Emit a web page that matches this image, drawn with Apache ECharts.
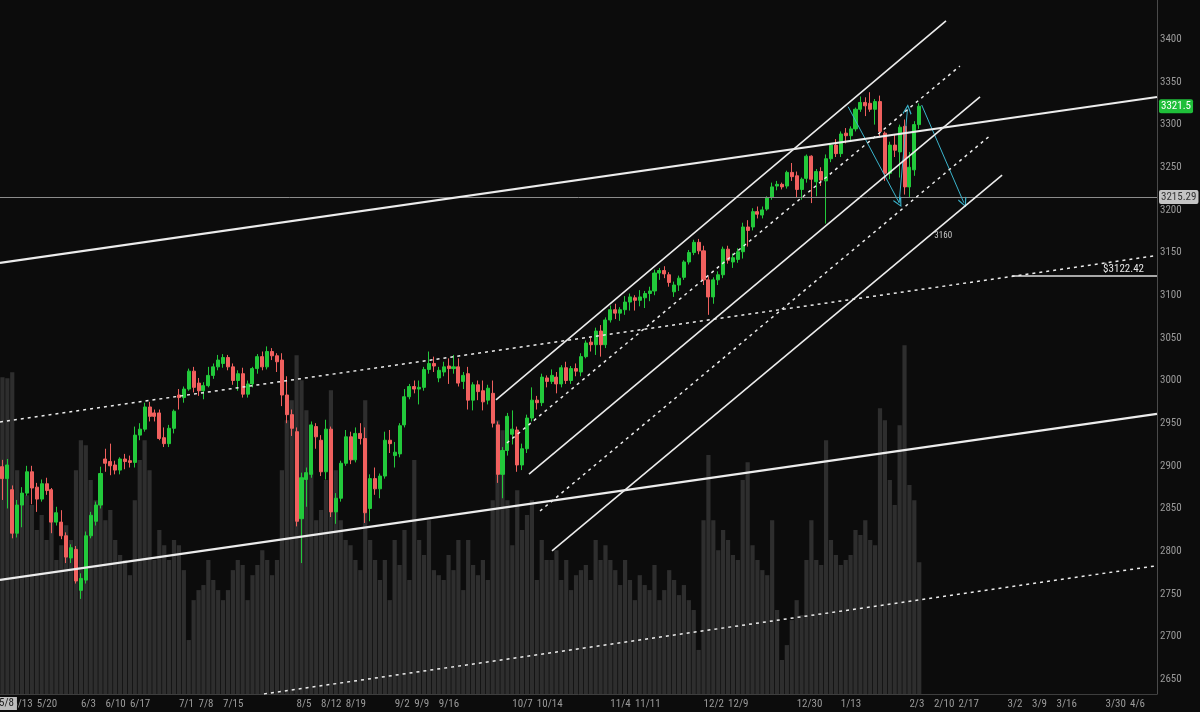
<!DOCTYPE html>
<html><head><meta charset="utf-8">
<script src="https://cdn.jsdelivr.net/npm/echarts@6/dist/echarts.min.js"></script>
<style>html,body{margin:0;padding:0;background:#0c0c0c}#c{width:1200px;height:712px}</style>
</head><body><div id="c"></div>
<script>
// ---------- data ----------
const firstDate = '2019-05-09';
const marketHolidays = ['2019-05-27','2019-07-04','2019-09-02','2019-11-28','2019-12-25','2020-01-01','2020-01-20'];
const slotCount = 236;
const xTickLabels = ['5/13','5/20','6/3','6/10','6/17','7/1','7/8','7/15','8/5','8/12','8/19','9/2','9/9','9/16','10/7','10/14','11/4','11/11','12/2','12/9','12/30','1/13','2/3','2/10','2/17','3/2','3/9','3/16','3/30','4/6'];
const yTickValues = [2650,2700,2750,2800,2850,2900,2950,3000,3050,3100,3150,3200,3250,3300,3350,3400];

const opens = [2899,2885,2872,2821,2854,2868,2893,2875,2861,2879,
2872,2834,2834,2818,2792,2802,2754,2766,2818,2835,
2854,2908,2905,2901,2895,2908,2906,2904,2936,2943,
2969,2962,2962,2933,2926,2944,2983,2980,2990,3011,
2997,2988,2994,3006,3016,3020,3027,3016,3000,3008,
2984,2996,3014,3028,3016,3034,3029,3024,2983,2960,
2940,2838,2884,2890,2946,2930,2893,2943,2846,2862,
2903,2934,2907,2938,2932,2850,2885,2873,2888,2930,
2912,2914,2948,2981,2993,2990,2992,3013,3020,3003,
3010,3017,3014,3016,2999,3008,2977,2995,2988,2977,
2985,2948,2890,2918,2937,2942,2901,2920,2956,2977,
2974,3003,2999,3004,2996,3015,3000,3014,3010,3028,
3045,3042,3058,3042,3071,3083,3079,3083,3092,3097,
3094,3097,3102,3105,3126,3129,3124,3104,3112,3121,
3139,3150,3162,3152,3118,3098,3118,3124,3154,3139,
3142,3151,3180,3180,3198,3194,3201,3215,3228,3230,
3228,3244,3240,3224,3237,3263,3233,3245,3234,3260,
3276,3266,3290,3287,3295,3318,3326,3325,3318,3327,
3290,3243,3276,3268,3298,3227,3247,3300];
const closes = [2885,2901,2821,2854,2868,2893,2874,2861,2879,2871,
2834,2845,2818,2793,2804,2765,2768,2818,2842,2854,
2891,2903,2900,2895,2908,2905,2904,2936,2943,2969,
2958,2958,2932,2926,2944,2964,2980,2990,3011,2992,
2988,2994,3006,3016,3024,3027,3016,3000,3008,2984,
2996,3014,3028,3016,3034,3029,3022,2983,2960,2944,
2835,2886,2892,2948,2934,2893,2943,2846,2862,2903,
2934,2907,2938,2932,2845,2885,2873,2888,2930,2926,
2916,2947,2981,2993,2990,2992,3013,3020,3017,3012,
3016,3014,3016,2997,3006,2977,2995,2987,2975,2991,
2950,2890,2918,2958,2943,2901,2920,2956,2977,2974,
3004,2999,3006,2996,3015,3000,3014,3011,3028,3044,
3042,3058,3042,3071,3083,3079,3083,3092,3098,3094,
3098,3102,3105,3126,3129,3125,3115,3112,3120,3139,
3150,3162,3152,3118,3098,3118,3124,3154,3141,3144,
3151,3180,3176,3198,3195,3200,3214,3227,3230,3227,
3244,3239,3224,3236,3263,3236,3245,3235,3260,3276,
3266,3289,3287,3295,3318,3326,3322,3318,3327,3292,
3243,3276,3270,3297,3227,3250,3300,3321.5];
const highs = [2907,2908,2877,2860,2875,2900,2900,2880,2884,2886,
2874,2852,2848,2822,2808,2806,2774,2823,2846,2858,
2899,2920,2926,2906,2910,2914,2912,2946,2950,2974,
2975,2966,2966,2945,2948,2966,2990,2993,3014,3016,
3003,2998,3016,3020,3030,3031,3030,3020,3012,3015,
3000,3016,3031,3034,3040,3038,3032,3032,3005,2966,
2945,2892,2898,2952,2950,2936,2954,2946,2868,2906,
2942,2940,2945,2950,2945,2890,2898,2891,2940,2942,
2928,2950,2990,2996,3000,3000,3016,3034,3028,3016,
3022,3026,3030,3026,3010,3016,2998,3000,3000,2995,
3000,2952,2922,2962,2965,2946,2926,2960,2992,2982,
3008,3006,3013,3010,3018,3022,3017,3020,3032,3047,
3050,3062,3065,3074,3088,3090,3086,3099,3102,3100,
3106,3105,3110,3130,3132,3134,3127,3116,3123,3141,
3153,3165,3166,3158,3122,3121,3128,3157,3158,3149,
3155,3185,3188,3202,3204,3204,3216,3232,3234,3232,
3246,3255,3245,3238,3265,3264,3248,3250,3265,3278,
3283,3292,3296,3298,3320,3333,3332,3338,3330,3334,
3292,3280,3288,3300,3306,3268,3304,3325];
const lows = [2860,2850,2815,2816,2828,2865,2855,2846,2858,2866,
2821,2830,2814,2786,2786,2762,2744,2762,2815,2830,
2850,2893,2889,2890,2890,2896,2898,2898,2930,2940,
2952,2952,2930,2922,2922,2938,2966,2974,2988,2986,
2982,2978,2992,3002,3012,3015,3012,2995,2988,2980,
2980,2992,3008,3012,3013,3024,3010,2970,2950,2935,
2829,2786,2852,2886,2920,2888,2884,2840,2832,2858,
2900,2902,2904,2925,2833,2835,2866,2862,2885,2915,
2898,2910,2945,2978,2985,2972,2988,3008,3010,2998,
3005,2996,3008,2993,2990,2966,2965,2977,2965,2972,
2945,2880,2862,2912,2925,2893,2895,2915,2952,2966,
2970,2992,2996,2985,2992,2996,2996,3005,3005,3026,
3034,3030,3028,3038,3068,3072,3070,3077,3082,3082,
3087,3085,3093,3100,3118,3120,3110,3098,3105,3118,
3136,3147,3148,3112,3077,3090,3112,3120,3137,3132,
3138,3143,3157,3176,3190,3190,3199,3212,3223,3224,
3225,3234,3215,3212,3232,3208,3216,3228,3184,3256,
3262,3262,3278,3280,3292,3315,3310,3315,3300,3285,
3234,3236,3262,3238,3218,3215,3240,3295];
const volumes = [1826,1820,1855,1290,1117,1146,1089,945,1031,887,
1117,772,858,973,887,1290,1463,1434,1233,1117,
1175,1002,1060,887,801,772,685,1117,1348,1463,
1290,772,945,858,772,887,858,714,311,541,
599,628,772,657,599,541,599,714,772,743,
541,685,743,829,772,685,772,1290,1578,1693,
1953,1809,1636,1290,1002,1060,1233,1751,1290,1002,
887,858,772,714,1693,887,772,657,772,541,
887,743,945,657,1348,887,801,1002,714,685,
657,801,714,887,599,887,743,685,772,657,
1117,1578,1520,1117,858,1175,945,1031,1117,657,
887,772,772,829,657,772,599,685,714,743,
657,887,772,858,772,714,628,772,657,541,
685,628,599,743,541,599,714,657,570,628,
541,484,254,1002,1377,1002,829,945,887,801,
772,1233,1336,858,772,714,685,1002,484,196,
282,426,541,455,772,1002,772,743,1463,887,
801,743,772,801,945,916,1002,887,858,1647,
1578,1233,1089,1549,2010,1204,1117,760];

// drawn annotations: [barIndex, price] end points
const upperLongTrend = [[-0.5, 3137.8], [235.5, 3332.4]];
const lowerLongTrend = [[-0.5, 2766.2], [235.5, 2960.8]];
const upperDottedTrend = [[-0.5, 2951.4], [235.5, 3146.6]];
const lowerDottedTrend = [[53.35, 2632.5], [235.5, 2782.9]];
const channelTop = [[100.67, 2977.2], [192.46, 3421.5]];
const channelDotted1 = [[102.9, 2926.8], [195.3, 3368.7]];
const channelMid = [[107.4, 2890.4], [199.4, 3332.4]];
const channelDotted2 = [[109.65, 2847.0], [201.6, 3287.8]];
const channelLow = [[112.1, 2800.2], [203.9, 3240.9]];
const arrowPaths = [
  [[172.5, 3321.0], [182.9, 3208.5]],
  [[182.9, 3208.5], [184.6, 3317.9]],
  [[187.5, 3323.0], [196.1, 3208.5]]
];
const targetNote = {at: [191.9, 3169.4], text: '3160'};
const lastPrice = 3321.5;
const markedPrice = 3215.29;
const levelPrice = 3122.42;
const levelFrom = 205.9, levelTo = 235.5;

// ---------- categories ----------
const categories = [];
(function(){
  const p = firstDate.split('-').map(Number);
  let t = Date.UTC(p[0], p[1]-1, p[2]);
  while (categories.length < slotCount) {
    const d = new Date(t);
    const dow = d.getUTCDay();
    const s = d.toISOString().slice(0,10);
    if (dow !== 0 && dow !== 6 && marketHolidays.indexOf(s) < 0) categories.push(s);
    t += 86400000;
  }
})();
function weekLabel(s){
  const d = new Date(s + 'T00:00:00Z');
  const dow = d.getUTCDay();
  const m = new Date(d.getTime() - (dow - 1) * 86400000);
  return (m.getUTCMonth()+1) + '/' + m.getUTCDate();
}
const shown = new Set();
categories.forEach((c,i) => {
  const wl = weekLabel(c);
  if ((i === 0 || weekLabel(categories[i-1]) !== wl) && xTickLabels.indexOf(wl) >= 0) shown.add(i);
});

const candleData = opens.map((o,i) => [o, closes[i], lows[i], highs[i]]);
const FONT = 'Liberation Sans Narrow, Roboto Condensed, Roboto, sans-serif';

function trend(data, width, dashed, color) {
  return {
    type: 'line', xAxisIndex: 1, yAxisIndex: 0, data: data, showSymbol: false, symbol: 'none',
    silent: true, clip: true, z: 5,
    lineStyle: {color: color || '#ececec', width: width, type: dashed ? [3, 4] : 'solid'}
  };
}

const chevron = 'path://M5,0 L10,9 L9,10 L5,2.5 L1,10 L0,9 Z';

const option = {
  backgroundColor: '#0c0c0c',
  animation: false,
  textStyle: {fontFamily: FONT},
  grid: {left: 0, right: 43, top: 0, bottom: 18, containLabel: false},
  xAxis: [{
    type: 'category', data: categories, boundaryGap: true,
    axisLine: {show: true, onZero: false, lineStyle: {color: '#3e3e3e'}},
    axisTick: {show: false},
    axisLabel: {
      interval: (i) => shown.has(i),
      formatter: (v) => weekLabel(v),
      color: '#9a9a9a', fontSize: 11, margin: 5, align: 'left', fontFamily: FONT
    },
    splitLine: {show: false}
  }, {
    type: 'value', min: -0.5, max: slotCount - 0.5, show: false,
    axisLine: {show: false, onZero: false}, splitLine: {show: false}
  }],
  yAxis: [{
    type: 'value', position: 'right', min: 2632.5, max: 3446.1, scale: true,
    axisLine: {show: true, onZero: false, lineStyle: {color: '#4a4a4a'}},
    axisTick: {show: false, customValues: yTickValues},
    axisLabel: {customValues: yTickValues, formatter: (v) => String(v), color: '#9a9a9a', fontSize: 11, margin: 3, fontFamily: FONT},
    splitLine: {show: false}
  }, {
    type: 'value', min: 0, max: 4000, show: false,
    axisLine: {show: false, onZero: false}, splitLine: {show: false}
  }],
  graphic: [{
    type: 'text', left: -4, top: 697, z: 100,
    style: {text: '5/8', fill: '#1a1a1a', backgroundColor: '#bdbdbd', padding: [1, 3], fontSize: 11, fontFamily: FONT}
  }],
  series: [
    {
      type: 'bar', name: 'Volume', xAxisIndex: 0, yAxisIndex: 1, data: volumes,
      barWidth: '86%', itemStyle: {color: '#2e2e2e'}, silent: true, z: 1
    },
    {
      type: 'candlestick', name: '/ES', xAxisIndex: 0, yAxisIndex: 0, data: candleData,
      barWidth: '72%', z: 3,
      itemStyle: {color: '#22c93b', color0: '#f0605e', borderColor: '#22c93b', borderColor0: '#f0605e', borderWidth: 1},
      markLine: {
        symbol: 'none', silent: true, animation: false,
        data: [
          {yAxis: markedPrice, lineStyle: {color: '#8c8c8c', width: 1, type: 'solid'},
           label: {show: true, position: 'end', distance: 2, formatter: String(markedPrice), backgroundColor: '#c4c4c4', color: '#333', padding: [2, 2, 1, 2], fontSize: 11, borderRadius: 2, fontFamily: FONT}},
          {yAxis: lastPrice, lineStyle: {color: 'rgba(0,0,0,0)', width: 0},
           label: {show: true, position: 'end', distance: 2, formatter: String(lastPrice), backgroundColor: '#1fbf3a', color: '#ffffff', padding: [2, 2, 1, 2], fontSize: 11, borderRadius: 2, fontFamily: FONT}}
        ]
      }
    },
    trend(upperLongTrend, 2.2, false),
    trend(lowerLongTrend, 2.2, false),
    trend(upperDottedTrend, 1.5, true),
    trend(lowerDottedTrend, 1.5, true),
    trend(channelTop, 1.6, false),
    trend(channelDotted1, 1.5, true),
    trend(channelMid, 1.6, false),
    trend(channelDotted2, 1.5, true),
    trend(channelLow, 1.6, false),
    {
      type: 'line', xAxisIndex: 1, yAxisIndex: 0, data: [], silent: true, z: 6,
      markLine: {
        silent: true, animation: false,
        symbol: ['none', chevron], symbolSize: [9, 10],
        lineStyle: {color: '#3ab4cc', width: 1, type: 'solid'},
        itemStyle: {color: '#3ab4cc'},
        label: {show: false},
        data: arrowPaths.map(p => [{coord: p[0]}, {coord: p[1]}])
      },
      markPoint: {
        silent: true, animation: false, symbol: 'circle', symbolSize: 1,
        itemStyle: {color: 'rgba(0,0,0,0)'},
        label: {show: true, position: 'inside', color: '#c8c8c8', fontSize: 9, fontFamily: FONT},
        data: [{coord: targetNote.at, value: targetNote.text}]
      }
    },
    {
      type: 'line', xAxisIndex: 1, yAxisIndex: 0, data: [], silent: true, z: 6,
      markLine: {
        silent: true, animation: false, symbol: 'none',
        lineStyle: {color: '#dcdcdc', width: 1.5, type: 'solid'},
        label: {show: true, position: 'insideEndTop', formatter: '$' + levelPrice, color: '#e6e6e6', fontSize: 11, distance: 1, padding: [0, 12, 0, 0], fontFamily: FONT},
        data: [[{coord: [levelFrom, levelPrice]}, {coord: [levelTo, levelPrice]}]]
      }
    }
  ]
};
const chart = echarts.init(document.getElementById('c'), null, {renderer: 'canvas'});
chart.setOption(option);
</script>
</body></html>
